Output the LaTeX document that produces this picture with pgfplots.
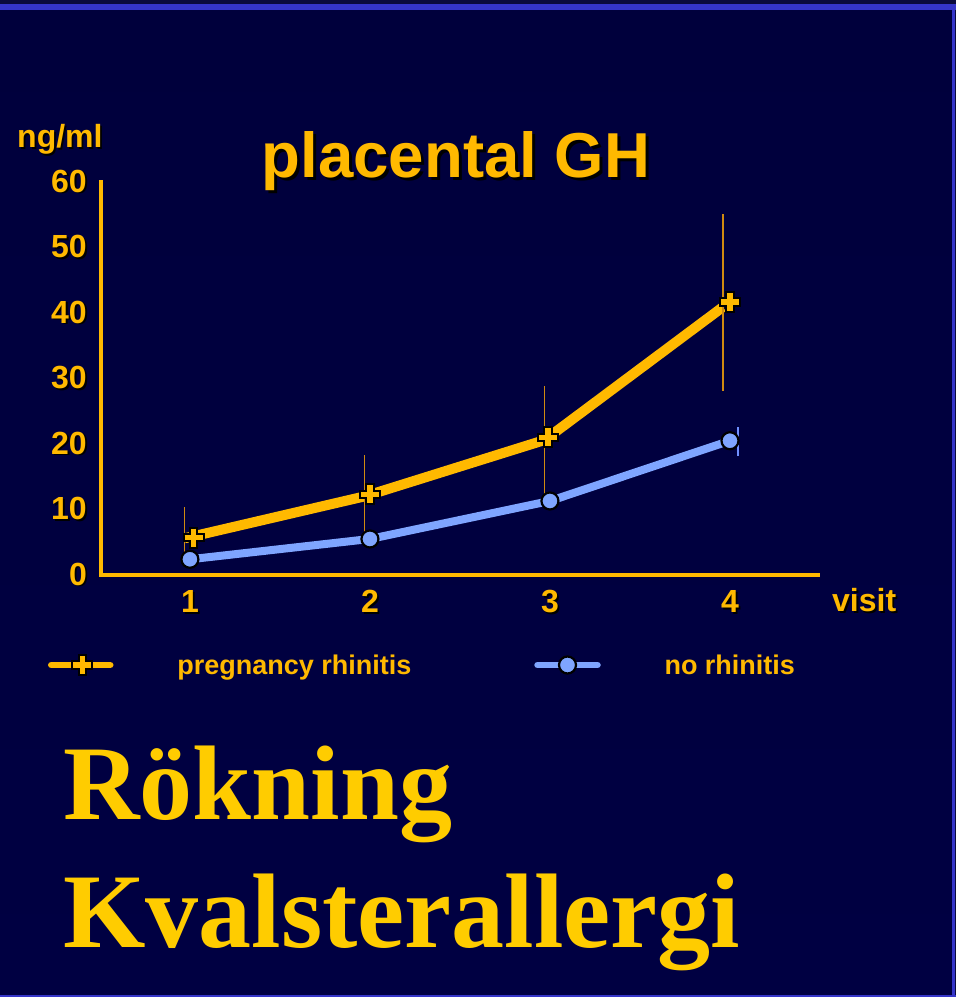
\documentclass[border=0pt]{standalone}
\usepackage{pgfplots}
\pgfplotsset{compat=1.18}
\usepackage{fontspec}
\setmainfont{Liberation Sans}
\newfontfamily\timesf{Liberation Serif}
\definecolor{org}{HTML}{FFB900}
\definecolor{ylw}{HTML}{FFCC00}
\definecolor{lbl}{HTML}{7FA5FF}
\definecolor{errO}{HTML}{D08A10}
\definecolor{errB}{HTML}{6F8FFF}
\definecolor{bord}{HTML}{3535C8}
\definecolor{bgedge}{HTML}{0A0A3C}
\definecolor{bgtop}{HTML}{00003C}
\definecolor{bgmid}{HTML}{000068}
\definecolor{bgbot}{HTML}{000042}
\newcommand\sh[2][1.8pt]{\rlap{\kern#1\raisebox{-#1}{\color{black}#2}}#2}
\begin{document}
\begin{tikzpicture}[x=1pt,y=1pt]
\useasboundingbox (0,0) rectangle (956,997);
\fill[bgedge] (0,0) rectangle (956,997);
\shade[top color=bgtop, middle color=bgmid, bottom color=bgbot] (0,2) rectangle (952,988);
\fill[bord] (0,987) rectangle (956,993);
\fill[bord] (952,0) rectangle (955,990);
\fill[bord] (0,0) rectangle (956,2.2);

\node[anchor=base, inner sep=0pt, text=org, font=\fontsize{63.5}{64}\selectfont\bfseries] at (456,819) {\sh[3pt]{placental GH}};
\node[anchor=base west, inner sep=0pt, text=org, font=\fontsize{32}{32}\selectfont\bfseries] at (17,849) {\sh{ng/ml}};
\node[anchor=base west, inner sep=0pt, text=org, font=\fontsize{32}{32}\selectfont\bfseries] at (832,385) {\sh{visit}};
\node[anchor=base west, inner sep=0pt, text=ylw, font=\timesf\bfseries\fontsize{106}{110}\selectfont] at (63,177) {Rökning};
\node[anchor=base west, inner sep=0pt, text=ylw, font=\timesf\bfseries\fontsize{106}{110}\selectfont] at (63,49) {Kvalsterallergi};

\begin{axis}[at={(101pt,422pt)}, anchor=south west, scale only axis,
  width=717pt, height=393pt,
  xmin=0.506, xmax=4.489, ymin=0, ymax=60,
  axis x line=bottom, axis y line=left,
  axis line style={org, line width=4pt, -, line cap=rect},
  xtick={1,2,3,4}, xticklabels={\sh{1},\sh{2},\sh{3},\sh{4}},
  ytick={0,10,20,30,40,50,60},
  yticklabels={\sh{0},\sh{10},\sh{20},\sh{30},\sh{40},\sh{50},\sh{60}},
  major tick length=0pt,
  tick label style={font=\fontsize{32}{32}\selectfont\bfseries, text=org, inner sep=0pt},
  yticklabel style={anchor=east, xshift=-14pt},
  xticklabel style={anchor=north, yshift=-15pt},
  clip=false,
  legend columns=2,
  legend cell align=left,
  legend style={at={(axis description cs:-0.0739,-0.229)}, anchor=west,
    draw=none, fill=none, inner sep=0pt, outer sep=0pt,
    /tikz/column sep=0pt,
    font=\fontsize{27}{27}\selectfont\bfseries, text=org},
]
% lines
\addplot[lbl, line width=8pt, line join=round, forget plot] coordinates {(1,2.4) (2,5.5) (3,11.3) (4,20.5)};
\addplot[org, line width=10pt, line join=round, forget plot] coordinates {(0.97,5.6) (1.97,12.0) (2.97,20.6) (3.96,40.9)};
% error bars
\addplot[draw=none, mark=none, forget plot,
  error bars/.cd, y dir=both, y explicit, error mark=none,
  error bar style={draw=errO, line width=1.8pt, solid}]
  coordinates {(0.97,5.9) +- (0,4.5) (1.97,12.0) +- (0,6.3) (2.97,20.4) +- (0,8.5) (3.96,41.6) +- (0,13.5)};
\addplot[draw=none, mark=none, forget plot,
  error bars/.cd, y dir=both, y explicit, error mark=none,
  error bar style={draw=errB, line width=1.5pt, solid}]
  coordinates {(1.035,2.4) +- (0,0.8) (2.03,5.5) +- (0,0.6) (3.03,11.3) +- (0,0.6) (4.045,20.35) +- (0,2.2)};
% markers
\addplot[only marks, mark=*, mark size=8.5pt, forget plot, mark options={fill=lbl, draw=black, line width=2.2pt}]
  coordinates {(1,2.4) (2,5.5) (3,11.3) (4,20.5)};
\addplot[only marks, mark=+, mark size=11pt, forget plot, mark options={draw=black, line width=9.5pt}]
  coordinates {(1.02,5.7) (2.0,12.3) (2.99,21.0) (4.0,41.7)};
\addplot[only marks, mark=+, mark size=9pt, forget plot, mark options={draw=org, line width=5.5pt}]
  coordinates {(1.02,5.7) (2.0,12.3) (2.99,21.0) (4.0,41.7)};
% legend
\addlegendimage{legend image code/.code={
  \draw[org, line width=6.5pt, line cap=round] (3pt,0pt) -- (62pt,0pt);
  \draw[black, line width=9.5pt] (23pt,0pt) -- (45pt,0pt) (34pt,-11pt) -- (34pt,11pt);
  \draw[org, line width=5.5pt] (25pt,0pt) -- (43pt,0pt) (34pt,-9pt) -- (34pt,9pt);
  \path[draw=none, fill=none] (0pt,0pt) -- (127pt,0pt);}}
\addlegendentry{\makebox[355pt][l]{pregnancy rhinitis}}
\addlegendimage{legend image code/.code={
  \draw[lbl, line width=6.5pt, line cap=round] (3pt,0pt) -- (63pt,0pt);
  \filldraw[fill=lbl, draw=black, line width=2.2pt] (33pt,0pt) circle (8.5pt);
  \path[draw=none, fill=none] (0pt,0pt) -- (128pt,0pt);}}
\addlegendentry{no rhinitis}
\end{axis}
\end{tikzpicture}
\end{document}
